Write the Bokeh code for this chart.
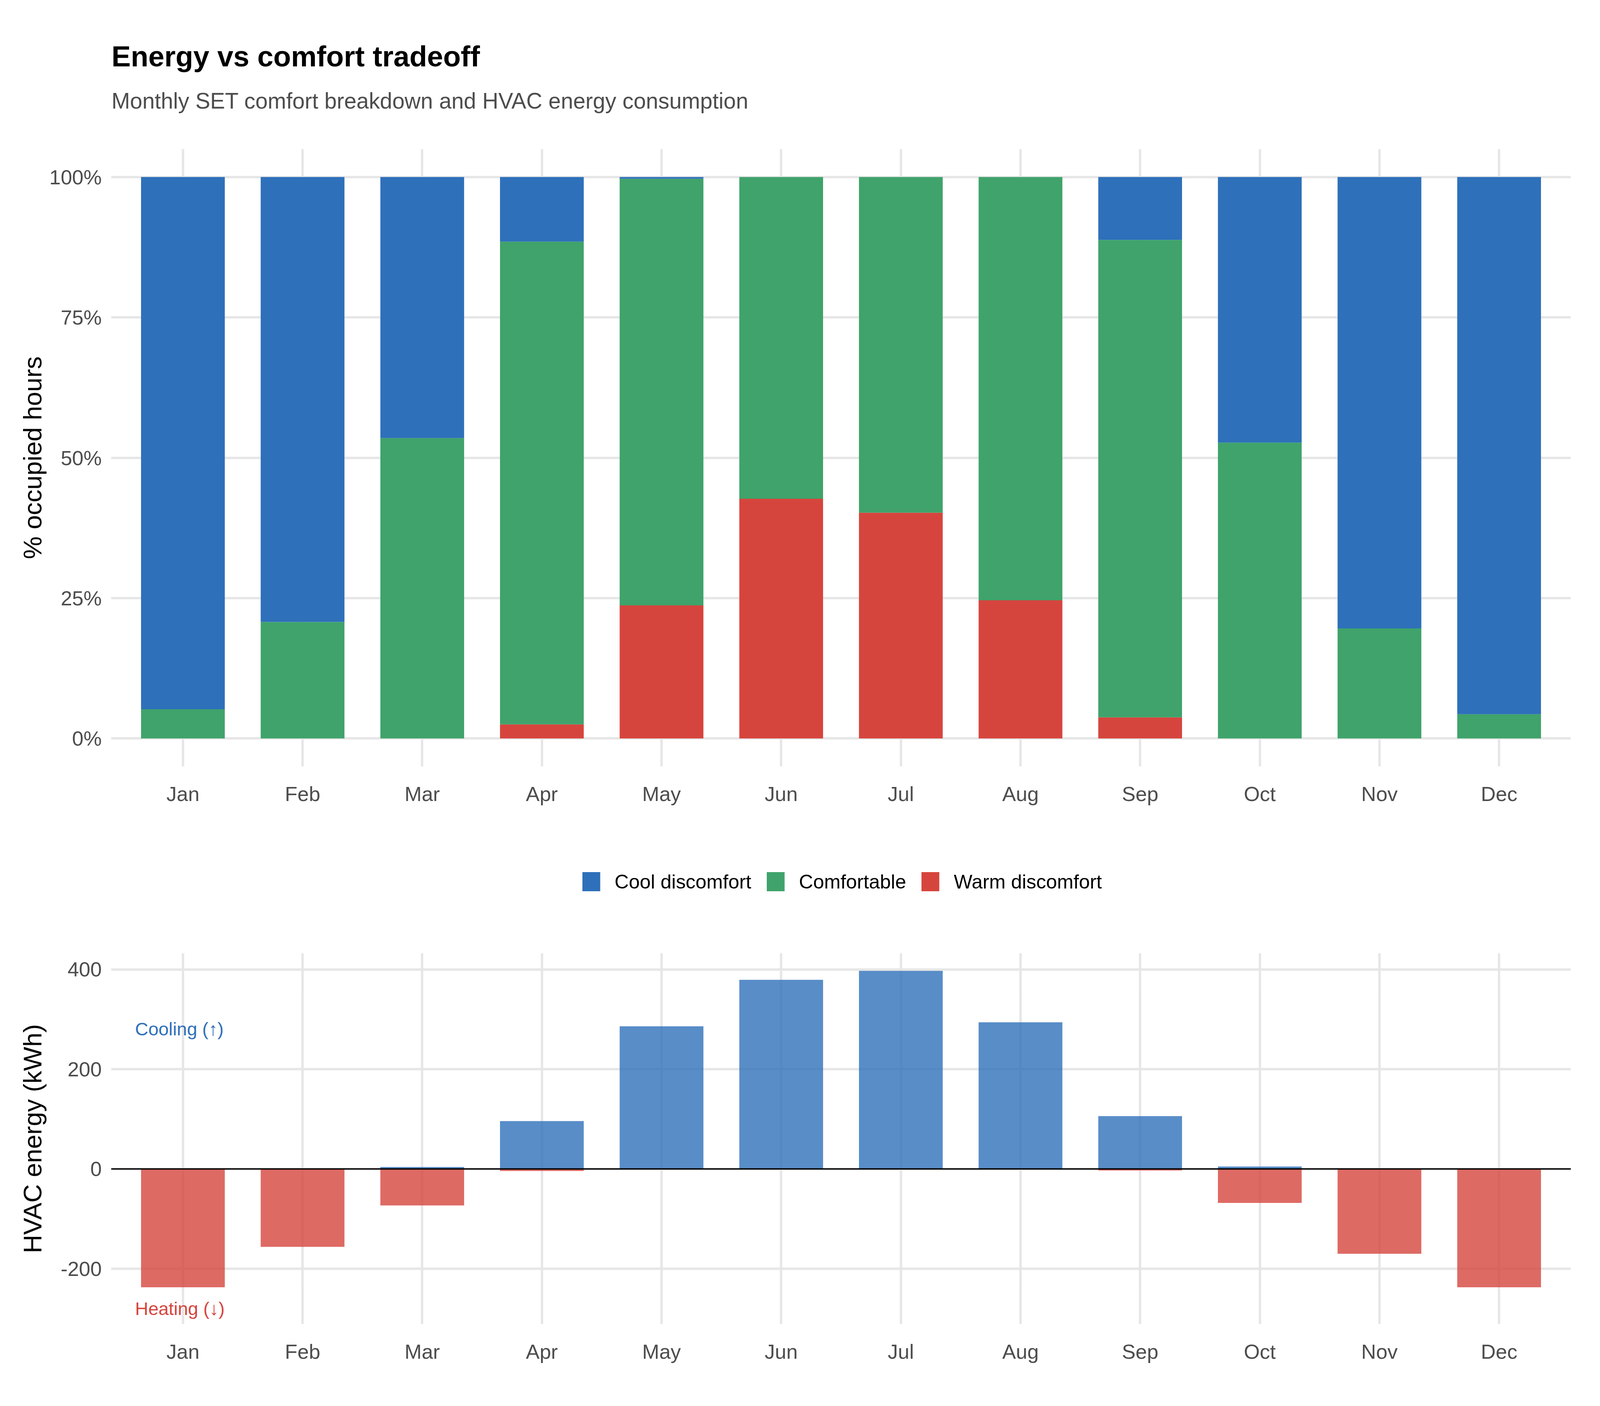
from bokeh.plotting import figure
from bokeh.models import (ColumnDataSource, FactorRange, Range1d, FixedTicker, Legend,
                          LegendItem, Span)
from bokeh.transform import dodge
from bokeh.layouts import column
from bokeh.core.properties import value
from bokeh.embed import file_html
from bokeh.resources import INLINE

# ---------------- data ----------------
months = ["Jan", "Feb", "Mar", "Apr", "May", "Jun", "Jul", "Aug", "Sep", "Oct", "Nov", "Dec"]
warm_pct = [0.0, 0.0, 0.0, 2.5, 23.7, 42.7, 40.2, 24.6, 3.75, 0.0, 0.0, 0.0]
comf_pct = [5.2, 20.75, 53.5, 86.0, 76.0, 57.3, 59.8, 75.4, 85.05, 52.7, 19.6, 4.3]
cool_pct = [94.8, 79.25, 46.5, 11.5, 0.3, 0.0, 0.0, 0.0, 11.2, 47.3, 80.4, 95.7]
cooling_kwh = [0, 0, 4, 96, 286, 379, 397, 294, 106, 5, 0, 0]
heating_kwh = [237, 156, 73, 4, 0, 0, 0, 0, 3, 68, 170, 237]
pct_ticks = [0, 25, 50, 75, 100]
pct_tick_labels = ["0%", "25%", "50%", "75%", "100%"]
kwh_ticks = [-200, 0, 200, 400]
kwh_tick_labels = ["-200", "0", "200", "400"]
series_names = ["Cool discomfort", "Comfortable", "Warm discomfort"]
title_text = "Energy vs comfort tradeoff"
subtitle_text = "Monthly SET comfort breakdown and HVAC energy consumption"

COOL = "#2E70BA"
COMF = "#3FA36B"
WARM = "#D6453D"
GRID = "#E6E6E6"
FONT = "Liberation Sans"

SX = 0.682   # horizontal css px per reference px
FS = 0.71    # font scale
def X(v):
    return int(round(v * SX))
def px(v):
    return "%.1fpx" % (v * FS)

W = X(6000) - 16
BL = X(428) - 8               # left border of every frame
BR = (8 + W) - X(5908)        # right border
FW = W - BL - BR              # frame width

def style(p):
    p.outline_line_color = None
    p.background_fill_color = "white"
    p.border_fill_color = "white"
    for ax in (p.xaxis, p.yaxis):
        ax.axis_line_color = None
        ax.major_tick_line_color = None
        ax.minor_tick_line_color = None
        ax.major_tick_out = 0
        ax.major_tick_in = 0
        ax.major_label_text_font = FONT
        ax.major_label_text_font_size = px(74)
        ax.major_label_text_color = "#4D4D4D"
        ax.axis_label_text_font = FONT
        ax.axis_label_text_font_size = px(92)
        ax.axis_label_text_font_style = "normal"
        ax.axis_label_text_color = "black"
    p.xaxis.major_label_standoff = 40
    p.yaxis.major_label_standoff = 24
    p.xgrid.grid_line_color = GRID
    p.ygrid.grid_line_color = GRID
    p.xgrid.grid_line_width = 6
    p.ygrid.grid_line_width = 6

def blank(p):
    p.outline_line_color = None
    p.background_fill_color = "white"
    p.border_fill_color = "white"
    p.grid.visible = False

# ---------------- title block ----------------
H_T = 340 - 8
pt = figure(width=W, height=H_T, output_backend="svg", toolbar_location=None,
            x_range=Range1d(0, FW), y_range=Range1d(H_T, 0),
            x_axis_type=None, y_axis_type=None,
            min_border_left=BL, min_border_right=BR, min_border_top=0, min_border_bottom=0)
blank(pt)
tsrc = ColumnDataSource(dict(x=[X(430) - 8 - BL, X(430) - 8 - BL], y=[152 - 8, 266 - 8],
                             text=[title_text, subtitle_text],
                             size=[px(104), px(80)], color=["black", "#4D4D4D"],
                             style=["bold", "normal"]))
pt.text(x="x", y="y", text="text", source=tsrc, text_font=value(FONT),
        text_font_size="size", text_color="color", text_font_style="style",
        text_align="left", text_baseline="alphabetic")

# ---------------- top panel ----------------
H1 = 2150 - 340
src = ColumnDataSource(dict(month=months, warm=warm_pct, comf=comf_pct, cool=cool_pct))
p1 = figure(width=W, height=H1, output_backend="svg", toolbar_location=None,
            x_range=FactorRange(factors=months, range_padding=0.1, range_padding_units="absolute"),
            y_range=Range1d(-5, 105),
            min_border_left=BL, min_border_right=BR,
            min_border_top=389 - 340, min_border_bottom=2150 - 1970)
style(p1)
rs = p1.vbar_stack(["warm", "comf", "cool"], x="month", width=0.7, source=src,
                   color=[WARM, COMF, COOL], line_color=None)
p1.yaxis.ticker = FixedTicker(ticks=pct_ticks)
p1.yaxis.major_label_overrides = dict(zip(pct_ticks, pct_tick_labels))
p1.yaxis.axis_label = "% occupied hours"
p1.yaxis.axis_label_standoff = 3

# ---------------- legend band ----------------
HL = 2380 - 2150
pl = figure(width=W, height=HL, output_backend="svg", toolbar_location=None,
            x_range=Range1d(0, 1), y_range=Range1d(0, 1),
            x_axis_type=None, y_axis_type=None,
            min_border_left=BL, min_border_right=BR, min_border_top=0, min_border_bottom=0)
blank(pl)
leg_colors = [COOL, COMF, WARM]
# swatch renderers for the legend (their single bar lies outside the visible range)
leg_r = [pl.vbar(x=[-5], top=[-5], bottom=[-6], width=0.1, fill_color=c, line_color=None)
         for c in leg_colors]
legend = Legend(items=[LegendItem(label=n, renderers=[r]) for n, r in zip(series_names, leg_r)],
                orientation="horizontal", location="center",
                glyph_width=57, glyph_height=61, label_height=61,
                label_standoff=32, spacing=33, padding=0, margin=0,
                label_text_font=FONT, label_text_font_size=px(71), label_text_color="black",
                border_line_color=None, background_fill_alpha=0)
pl.add_layout(legend)

# ---------------- bottom panel ----------------
H2 = 3592 - 2380
src2 = ColumnDataSource(dict(month=months, cool=cooling_kwh,
                             heat_neg=[-h for h in heating_kwh], zero=[0] * len(months)))
p2 = figure(width=W, height=H2, output_backend="svg", toolbar_location=None,
            x_range=FactorRange(factors=months, range_padding=0.1, range_padding_units="absolute"),
            y_range=Range1d(-311, 432.5),
            min_border_left=BL, min_border_right=BR,
            min_border_top=2448 - 2380, min_border_bottom=3592 - 3398)
style(p2)
p2.vbar(x="month", top="cool", bottom="zero", width=0.7, source=src2,
        fill_color=COOL, fill_alpha=0.8, line_color=None)
p2.vbar(x="month", top="zero", bottom="heat_neg", width=0.7, source=src2,
        fill_color=WARM, fill_alpha=0.8, line_color=None)
p2.add_layout(Span(location=0, dimension="width", line_color="black", line_width=3.5))
p2.yaxis.ticker = FixedTicker(ticks=kwh_ticks)
p2.yaxis.major_label_overrides = dict(zip(kwh_ticks, kwh_tick_labels))
p2.yaxis.axis_label = "HVAC energy (kWh)"
p2.yaxis.axis_label_standoff = 32

ann = ColumnDataSource(dict(month=[months[0], months[0]], y=[280, -280],
                            label=["Cooling (\u2191)", "Heating (\u2193)"], color=[COOL, WARM]))
p2.text(x=dodge("month", -0.4, range=p2.x_range), y="y", text="label", source=ann,
        text_color="color", text_font=value(FONT), text_font_size=px(66),
        text_align="left", text_baseline="middle")

layout = column(pt, p1, pl, p2)
open("out.html", "w").write(file_html(layout, INLINE))
